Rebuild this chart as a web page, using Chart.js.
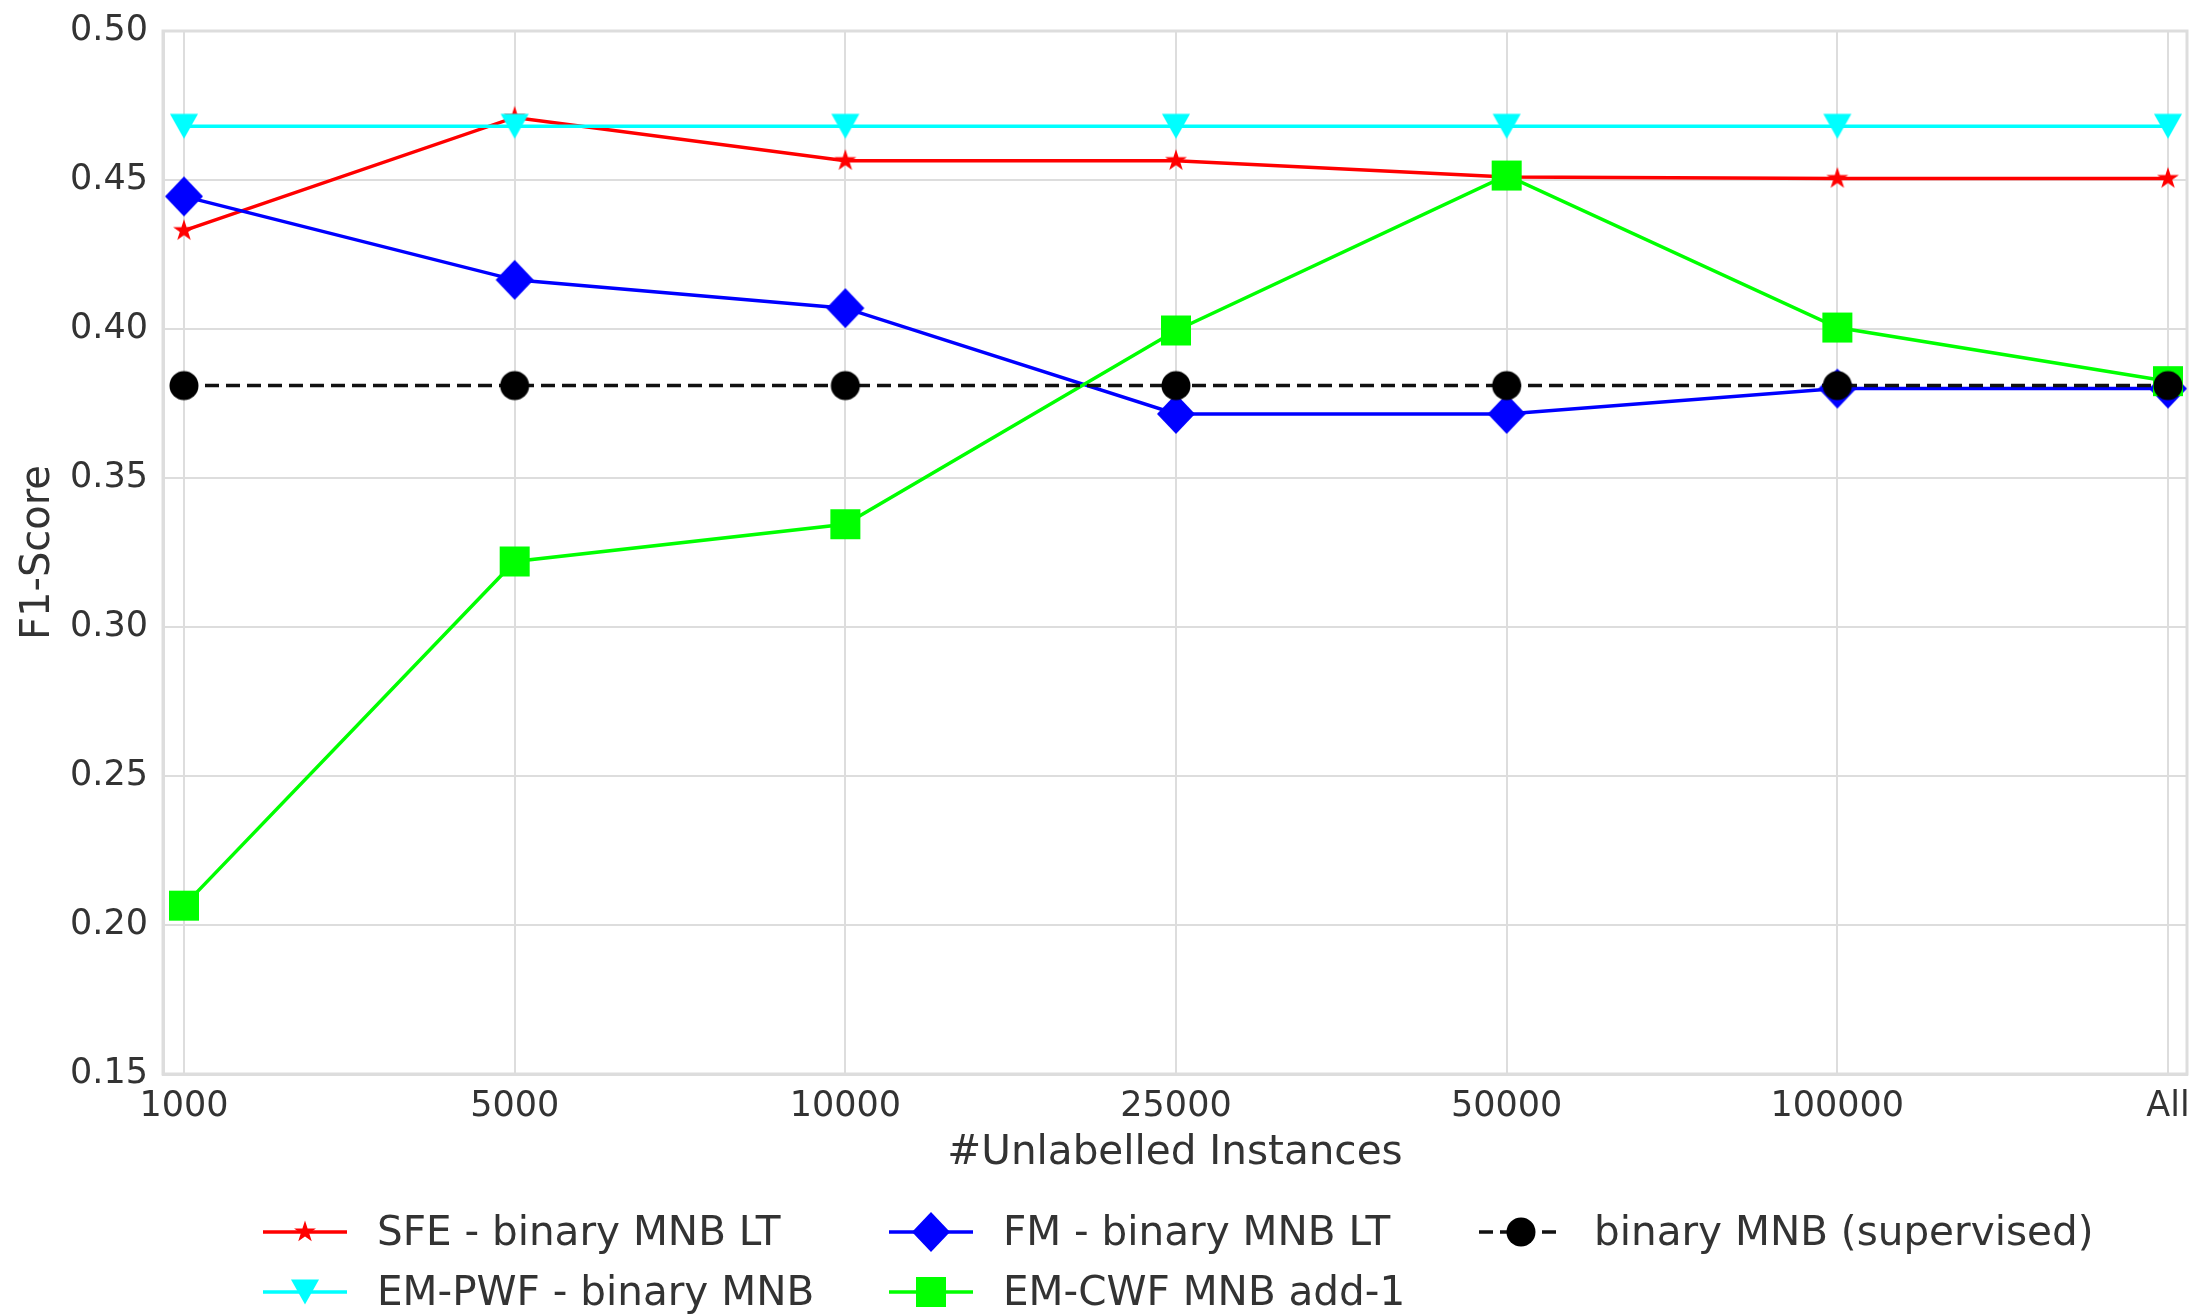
<!DOCTYPE html>
<html><head><meta charset="utf-8">
<script src="https://cdn.jsdelivr.net/npm/chart.js@4.4.0/dist/chart.umd.min.js"></script>
<style>
html,body{margin:0;padding:0;background:#fff;}
#wrap{position:relative;width:2206px;height:1314px;overflow:hidden;}
#c{position:absolute;left:0;top:0;}
.legtxt{position:absolute;font-family:'DejaVu Sans';font-size:40.5px;line-height:48px;color:#333;white-space:nowrap;}
.legicon{position:absolute;}
</style></head><body>
<div id="wrap"><canvas id="c" width="2206" height="1314"></canvas><div id="legend"></div></div>
<script>
// ---- data ----
const categories = ['1000', '5000', '10000', '25000', '50000', '100000', 'All'];
const yTickValues = [0.15, 0.20, 0.25, 0.30, 0.35, 0.40, 0.45, 0.50];
const xTitle = '#Unlabelled Instances';
const yTitle = 'F1-Score';

const seriesNames = ['SFE - binary MNB LT', 'EM-PWF - binary MNB', 'FM - binary MNB LT', 'EM-CWF MNB add-1', 'binary MNB (supervised)'];
const sfeValues        = [0.433, 0.471, 0.4565, 0.4565, 0.451, 0.4505, 0.4505];
const emPwfValues      = [0.468, 0.468, 0.468, 0.468, 0.468, 0.468, 0.468];
const fmValues         = [0.4445, 0.4165, 0.407, 0.3715, 0.3715, 0.3800, 0.3800];
const emCwfValues      = [0.2065, 0.3220, 0.3345, 0.3995, 0.4515, 0.4005, 0.3825];
const supervisedValues = [0.381, 0.381, 0.381, 0.381, 0.381, 0.381, 0.381];

// ---- styles ----
const FONT = "'DejaVu Sans'";
const TEXT = '#333';
const GRID = '#dddddd';

function makeMarker(kind, color) {
  const s = 48, c = document.createElement('canvas');
  c.width = s; c.height = s;
  const g = c.getContext('2d');
  const m = s / 2;
  g.fillStyle = color;
  g.beginPath();
  if (kind === 'star') {
    const R = 11.5, r = R * 0.382;
    for (let i = 0; i < 10; i++) {
      const rad = (i % 2 === 0) ? R : r;
      const a = -Math.PI / 2 + i * Math.PI / 5;
      const px = m + rad * Math.cos(a), py = m + rad * Math.sin(a);
      if (i === 0) g.moveTo(px, py); else g.lineTo(px, py);
    }
  } else if (kind === 'tri') {
    g.moveTo(m - 14, m - 12.5); g.lineTo(m + 14, m - 12.5); g.lineTo(m, m + 12.5);
  } else if (kind === 'diamond') {
    g.moveTo(m, m - 20); g.lineTo(m + 19, m); g.lineTo(m, m + 20); g.lineTo(m - 19, m);
  } else if (kind === 'square') {
    g.rect(m - 15, m - 15, 30, 30);
  } else if (kind === 'circle') {
    g.arc(m, m, 14.5, 0, Math.PI * 2);
  }
  g.closePath();
  g.fill();
  return c;
}

const seriesStyle = [
  {color: '#ff0000', marker: 'star', dash: [], order: 5},
  {color: '#00ffff', marker: 'tri', dash: [], order: 4},
  {color: '#0000ff', marker: 'diamond', dash: [], order: 3},
  {color: '#00ff00', marker: 'square', dash: [], order: 2},
  {color: '#111111', marker: 'circle', dash: [14, 7], order: 1}
];
const seriesValues = [sfeValues, emPwfValues, fmValues, emCwfValues, supervisedValues];
const markerColors = ['#ff0000', '#00ffff', '#0000ff', '#00ff00', '#000000'];

const datasets = seriesValues.map((vals, k) => {
  const st = seriesStyle[k];
  const img = makeMarker(st.marker, markerColors[k]);
  return {
    label: seriesNames[k],
    data: vals.map((y, i) => ({x: i, y: y})),
    borderColor: st.color,
    backgroundColor: markerColors[k],
    borderWidth: 3.5,
    borderDash: st.dash,
    pointStyle: img,
    pointRadius: 15,
    tension: 0,
    fill: false,
    order: st.order,
    _img: img
  };
});

const frame = {
  id: 'frame',
  beforeDatasetsDraw(chart) {
    const a = chart.chartArea, g = chart.ctx;
    g.save();
    g.strokeStyle = GRID; g.lineWidth = 3;
    g.strokeRect(a.left, a.top, a.right - a.left, a.bottom - a.top);
    g.restore();
  }
};

new Chart(document.getElementById('c'), {
  type: 'line',
  data: {datasets},
  plugins: [frame],
  options: {
    responsive: false,
    animation: false,
    layout: {padding: {top: 31, right: 19, bottom: 136, left: 0}},
    plugins: {legend: {display: false}, tooltip: {enabled: false}},
    scales: {
      x: {
        type: 'linear',
        min: -0.0635, max: 6.0575,
        afterBuildTicks: (sc) => { sc.ticks = categories.map((_, i) => ({value: i})); },
        afterFit: (sc) => { sc.height = 104; sc.paddingLeft = 0; sc.paddingRight = 0; },
        ticks: {
          callback: (v) => categories[v],
          font: {family: FONT, size: 35}, color: TEXT, padding: 12, maxRotation: 0, autoSkip: false
        },
        grid: {color: GRID, lineWidth: 2, drawTicks: false},
        border: {color: GRID, width: 3},
        title: {display: true, text: xTitle, font: {family: FONT, size: 40.5}, color: TEXT, padding: {top: 0, bottom: 0}}
      },
      y: {
        min: 0.15, max: 0.50,
        afterBuildTicks: (sc) => { sc.ticks = yTickValues.map(v => ({value: v})); },
        afterFit: (sc) => { sc.width = 163; sc.paddingTop = 0; sc.paddingBottom = 0; },
        ticks: {
          callback: (v) => v.toFixed(2),
          font: {family: FONT, size: 35}, color: TEXT, padding: 15
        },
        grid: {color: GRID, lineWidth: 2, drawTicks: false},
        border: {color: GRID, width: 3},
        title: {display: true, text: yTitle, font: {family: FONT, size: 40}, color: TEXT, padding: {top: 15, bottom: 0}}
      }
    }
  }
});

// ---- legend (HTML) ----
const legendSlots = [
  {iconX: 305, textX: 377, y: 1232},
  {iconX: 305, textX: 377, y: 1292},
  {iconX: 931, textX: 1003, y: 1232},
  {iconX: 931, textX: 1003, y: 1292},
  {iconX: 1521, textX: 1594, y: 1232}
];
const legendEl = document.getElementById('legend');
datasets.forEach((ds, k) => {
  const slot = legendSlots[k];
  const cv = document.createElement('canvas');
  cv.width = 96; cv.height = 48;
  cv.className = 'legicon';
  cv.style.left = (slot.iconX - 48) + 'px';
  cv.style.top = (slot.y - 24) + 'px';
  const g = cv.getContext('2d');
  g.strokeStyle = ds.borderColor; g.lineWidth = 3.5;
  g.setLineDash(ds.borderDash);
  g.beginPath(); g.moveTo(6, 24); g.lineTo(90, 24); g.stroke();
  g.drawImage(ds._img, 48 - 24, 0);
  legendEl.appendChild(cv);
  const t = document.createElement('div');
  t.className = 'legtxt';
  t.textContent = ds.label;
  t.style.left = slot.textX + 'px';
  t.style.top = (slot.y - 25) + 'px';
  legendEl.appendChild(t);
});
</script>
</body></html>
